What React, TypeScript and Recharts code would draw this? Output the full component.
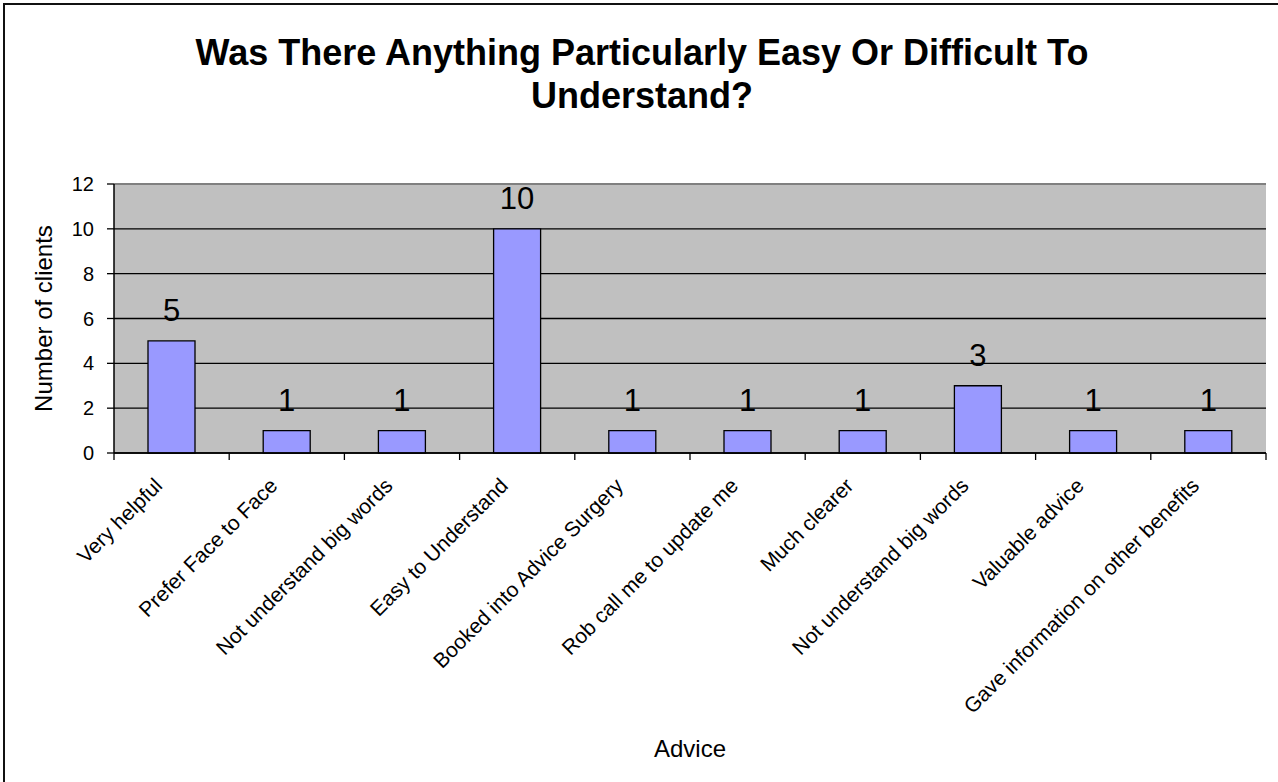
import {
  BarChart,
  Bar,
  XAxis,
  YAxis,
  CartesianGrid,
  LabelList,
  ReferenceLine,
} from "recharts";

const categories = [
  "Very helpful",
  "Prefer Face to Face",
  "Not understand big words",
  "Easy to Understand",
  "Booked into Advice Surgery",
  "Rob call me to update me",
  "Much clearer",
  "Not understand big words",
  "Valuable advice",
  "Gave information on other benefits",
];

const clientCounts = [5, 1, 1, 10, 1, 1, 1, 3, 1, 1];

const yTicks = [0, 2, 4, 6, 8, 10, 12];

const data = categories.map((name, i) => ({
  key: `${i}`,
  name,
  clients: clientCounts[i],
}));

const CHART_W = 1278;
const CHART_H = 782;
const Y_AXIS_W = 114;
const RIGHT_MARGIN = 12;
const PLOT_W = CHART_W - Y_AXIS_W - RIGHT_MARGIN;
const HALF_BAND = PLOT_W / categories.length / 2;

const FONT = "'Liberation Sans', Arial, sans-serif";

// category label rotated 45deg, with tick marks drawn between categories
const AngledTick = (props: any) => {
  const { x, y, payload, index } = props;
  const label = categories[index] ?? payload.value;
  const tx = x - 8;
  const ty = y + 34;
  return (
    <g>
      <line x1={x - HALF_BAND} y1={y} x2={x - HALF_BAND} y2={y + 7} stroke="#000" strokeWidth={1.3} />
      {index === categories.length - 1 && (
        <line x1={x + HALF_BAND} y1={y} x2={x + HALF_BAND} y2={y + 7} stroke="#000" strokeWidth={1.3} />
      )}
      <text
        x={tx}
        y={ty}
        textAnchor="end"
        fontSize={21}
        fill="#000"
        transform={`rotate(-45, ${tx}, ${ty})`}
      >
        {label}
      </text>
    </g>
  );
};

const App = () => {
  return (
    <div
      style={{
        position: "absolute",
        left: 0,
        top: 0,
        width: CHART_W,
        height: CHART_H,
        background: "#fff",
        overflow: "hidden",
        fontFamily: FONT,
      }}
    >
      <div
        style={{
          position: "absolute",
          left: 3,
          top: 3,
          width: CHART_W + 10,
          height: CHART_H + 10,
          borderLeft: "2px solid #111",
          borderTop: "2px solid #111",
        }}
      />
      <div
        style={{
          position: "absolute",
          left: 3,
          top: 31,
          width: CHART_W,
          textAlign: "center",
          fontWeight: "bold",
          fontSize: 36,
          lineHeight: "43px",
          color: "#000",
        }}
      >
        Was There Anything Particularly Easy Or Difficult To
        <br />
        Understand?
      </div>
      <BarChart
        width={CHART_W}
        height={CHART_H}
        data={data}
        margin={{ top: 184, right: RIGHT_MARGIN, bottom: 0, left: 0 }}
        style={{ position: "absolute", left: 0, top: 0 }}
      >
        <CartesianGrid
          vertical={false}
          fill="#c0c0c0"
          fillOpacity={1}
          stroke="#000"
          strokeWidth={1.3}
        />
        <ReferenceLine y={12} stroke="#808080" strokeWidth={2} />
        <XAxis
          dataKey="key"
          height={782 - 453}
          interval={0}
          tickSize={0}
          tickMargin={0}
          tickLine={false}
          axisLine={{ stroke: "#000", strokeWidth: 1.5 }}
          tick={<AngledTick />}
          label={{
            value: "Advice",
            position: "insideBottom",
            offset: 25,
            fontSize: 24,
            fill: "#000",
          }}
        />
        <YAxis
          width={Y_AXIS_W}
          domain={[0, 12]}
          ticks={yTicks}
          interval={0}
          tickSize={7}
          tickMargin={13}
          tick={{ fontSize: 20, fill: "#000" }}
          tickLine={{ stroke: "#000", strokeWidth: 1.3 }}
          axisLine={{ stroke: "#000", strokeWidth: 1.5 }}
          label={{
            value: "Number of clients",
            angle: -90,
            position: "insideLeft",
            offset: 43,
            fontSize: 24,
            fill: "#000",
            style: { textAnchor: "middle" },
          }}
        />
        <YAxis
          yAxisId="frame"
          orientation="right"
          width={0}
          domain={[0, 12]}
          tick={false}
          tickLine={false}
          axisLine={{ stroke: "#808080", strokeWidth: 2 }}
        />
        <Bar
          dataKey="clients"
          fill="#9999ff"
          stroke="#000"
          strokeWidth={1.3}
          barSize={47}
          isAnimationActive={false}
        >
          <LabelList dataKey="clients" position="top" offset={20} fontSize={31} fill="#000" />
        </Bar>
      </BarChart>
    </div>
  );
};

export default App;
